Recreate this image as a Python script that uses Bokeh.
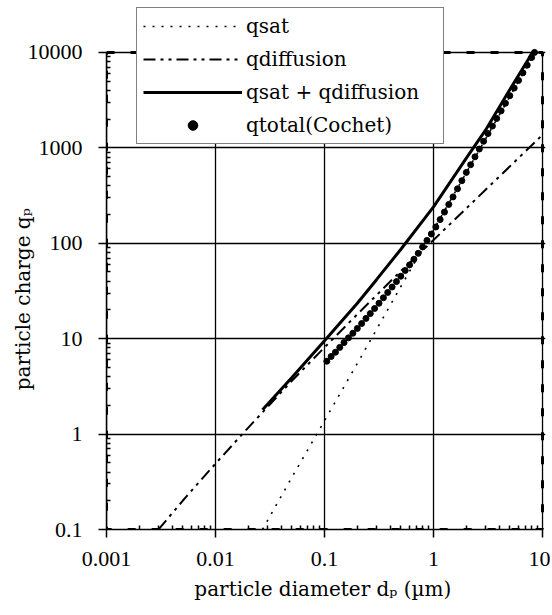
import math
from bokeh.plotting import figure
from bokeh.models import Range1d, FixedTicker, Legend, LegendItem
from bokeh.embed import file_html
from bokeh.resources import INLINE

# ---- data ----
d_sat = [0.027, 0.05, 0.1, 0.2, 0.5, 1, 2, 5, 8.5]
q_sat = [0.1, 0.35, 1.38, 5.5, 35, 138, 550, 3420, 10000]

d_diff = [0.003, 0.005, 0.01, 0.02, 0.05, 0.1, 0.2, 0.5, 1, 2, 5, 10]
q_diff = [0.1, 0.2, 0.49, 1.17, 3.6, 8.1, 18, 51, 108, 232, 636, 1370]

d_tot = [0.027, 0.05, 0.1, 0.2, 0.3, 0.5, 1, 2, 3, 5, 7, 8.1]
q_tot = [1.8, 3.9, 9.5, 23.5, 41.5, 86, 240, 780, 1530, 4050, 7600, 10000]

d_cochet = [0.105, 0.115, 0.126, 0.138, 0.151, 0.166, 0.182, 0.2, 0.219, 0.24,
            0.263, 0.288, 0.316, 0.347, 0.38, 0.417, 0.457, 0.501, 0.55, 0.603,
            0.661, 0.724, 0.794, 0.871, 0.955, 1.05, 1.15, 1.26, 1.38, 1.51,
            1.66, 1.82, 2.0, 2.19, 2.4, 2.63, 2.88, 3.16, 3.47, 3.8,
            4.17, 4.57, 5.01, 5.5, 6.03, 6.61, 7.24, 7.94, 8.45]
q_cochet = [5.8, 6.5, 7.2, 8.1, 9.1, 10.2, 11.4, 12.8, 14.4, 16.3,
            18.3, 20.7, 23.5, 26.8, 30.5, 34.8, 39.6, 45.1, 51.8, 59.3,
            67.9, 78.3, 91.4, 107, 125, 148, 177, 212, 255, 306,
            372, 453, 552, 665, 804, 971, 1170, 1410, 1690, 2030,
            2440, 2930, 3520, 4230, 5080, 6110, 7350, 8830, 10000]

x_ticks = [0.001, 0.01, 0.1, 1, 10]
x_tick_labels = ["0.001", "0.01", "0.1", "1", "10"]
y_ticks = [0.1, 1, 10, 100, 1000, 10000]
y_tick_labels = ["0.1", "1", "10", "100", "1000", "10000"]

series_labels = ["qsat", "qdiffusion", "qsat + qdiffusion", "qtotal(Cochet)"]
x_title = "particle diameter d\u209a  (\u00b5m)"
y_title = "particle charge q\u209a"

# ---- figure (frame extended upward so the legend box fits inside it) ----
p = figure(width=550, height=612, x_axis_type="log", y_axis_type="log",
           x_range=Range1d(0.001, 10.65), y_range=Range1d(0.1, 31000),
           output_backend="svg", toolbar_location=None,
           min_border_left=106, min_border_right=5,
           min_border_top=5, min_border_bottom=83)
p.background_fill_color = "white"
p.border_fill_color = "white"
p.outline_line_color = None

def minors(majors):
    out = []
    for m in majors[:-1]:
        out += [m * k for k in range(2, 10)]
    return out

xt = FixedTicker(ticks=x_ticks, minor_ticks=minors(x_ticks))
yt = FixedTicker(ticks=y_ticks, minor_ticks=minors(y_ticks))
p.xaxis.ticker = xt
p.yaxis.ticker = yt
p.ygrid.ticker = yt
p.xaxis.bounds = (x_ticks[0], x_ticks[-1])
p.yaxis.bounds = (y_ticks[0], y_ticks[-1])
p.xaxis.major_label_overrides = {t: s for t, s in zip(x_ticks, x_tick_labels)}
p.yaxis.major_label_overrides = {t: s for t, s in zip(y_ticks, y_tick_labels)}

for ax in (p.xaxis, p.yaxis):
    ax.axis_line_color = "black"
    ax.axis_line_width = 1.5
    ax.major_tick_line_color = "black"
    ax.major_tick_line_width = 1.5
    ax.minor_tick_line_color = "black"
    ax.minor_tick_line_width = 1.5
    ax.major_tick_out = 8
    ax.major_tick_in = 0
    ax.minor_tick_in = 4
    ax.minor_tick_out = 0
    ax.major_label_text_font = "Liberation Serif"
    ax.major_label_text_font_size = "22px"
    ax.major_label_text_color = "black"
    ax.axis_label_text_font = "DejaVu Serif"
    ax.axis_label_text_font_size = "20px"
    ax.axis_label_text_font_style = "normal"
    ax.axis_label_text_color = "black"
p.yaxis.major_label_standoff = 16
p.xaxis.major_label_standoff = 14
p.xaxis.axis_label = x_title
# trailing no-break spaces shift the rotated title down to the reference position
p.yaxis.axis_label = y_title + "\u00a0" * 10
p.xaxis.axis_label_standoff = 8
p.yaxis.axis_label_standoff = -10

p.xgrid.visible = False
p.ygrid.grid_line_color = "black"
p.ygrid.grid_line_width = 1.3
# vertical grid lines limited to the plotted decade range
p.segment(x0=x_ticks, y0=[y_ticks[0]] * len(x_ticks), x1=x_ticks, y1=[y_ticks[-1]] * len(x_ticks),
          line_color="black", line_width=1.3)
# thick dashed plot-area border
p.quad(left=[x_ticks[0]], right=[x_ticks[-1]], bottom=[y_ticks[0]], top=[y_ticks[-1]],
       fill_alpha=0, line_color="black", line_width=3, line_dash="8 16")

r_sat = p.line(d_sat, q_sat, line_color="black", line_width=1.6, line_dash="2 7")
r_diff = p.line(d_diff, q_diff, line_color="black", line_width=2, line_dash="12 5 3 5 3 5")
r_tot = p.line(d_tot, q_tot, line_color="black", line_width=3)
r_coch = p.scatter(d_cochet, q_cochet, marker="circle", size=6, fill_color="black", line_color="black")

legend = Legend(items=[LegendItem(label=series_labels[0], renderers=[r_sat]),
                       LegendItem(label=series_labels[1], renderers=[r_diff]),
                       LegendItem(label=series_labels[2], renderers=[r_tot]),
                       LegendItem(label=series_labels[3], renderers=[r_coch])],
                location=(30, 385), padding=6, spacing=9, margin=0,
                glyph_width=99, glyph_height=24, label_height=24, label_width=191,
                label_standoff=4,
                border_line_color="black", border_line_width=1.2,
                background_fill_color="white", background_fill_alpha=1.0,
                label_text_font="DejaVu Serif", label_text_font_size="20px",
                label_text_color="black", label_text_align="center")
p.add_layout(legend)

open("out.html", "w").write(file_html(p, INLINE))
